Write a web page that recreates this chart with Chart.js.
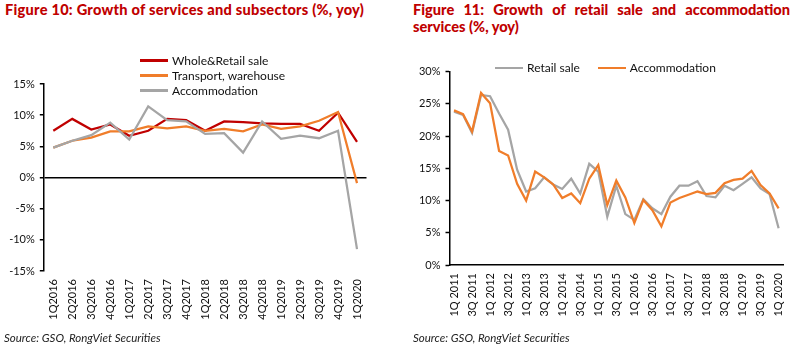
<!DOCTYPE html>
<html>
<head>
<meta charset="utf-8">
<script src="https://cdn.jsdelivr.net/npm/chart.js@4.4.1/dist/chart.umd.min.js"></script>
<style>
body{margin:0;background:#fff;}
#wrap{position:relative;width:800px;height:351px;overflow:hidden;font-family:Lato,sans-serif;}
.title{position:absolute;color:#C00000;font-weight:900;font-size:14.6px;line-height:17px;}
#t1{left:5px;top:1px;white-space:nowrap;letter-spacing:0.25px;}
#t2{left:413px;top:1px;width:377px;text-align:justify;}
.src{position:absolute;top:331px;font-style:italic;font-size:11.5px;color:#222;white-space:nowrap;}
canvas{position:absolute;top:0;}
.legend{position:absolute;font-size:12px;color:#111;}
.legend .item{display:flex;align-items:center;height:15px;white-space:nowrap;}
.legend .sw{width:28px;height:2.5px;margin-right:4px;}
#lg2 .item{display:inline-flex;margin-right:18px;}
</style>
</head>
<body>
<div id="wrap">
  <div class="title" id="t1">Figure 10: Growth of services and subsectors (%, yoy)</div>
  <div class="title" id="t2">Figure 11: Growth of retail sale and accommodation services (%, yoy)</div>
  <canvas id="c1" width="400" height="351" style="left:0"></canvas>
  <canvas id="c2" width="400" height="351" style="left:400px"></canvas>
  <div class="legend" id="lg1" style="left:140px;top:53px"></div>
  <div class="legend" id="lg2" style="left:495px;top:57px"></div>
  <div class="src" style="left:4px">Source: GSO, RongViet Securities</div>
  <div class="src" style="left:413px">Source: GSO, RongViet Securities</div>
</div>
<script>
// Figure 10 - quarterly, 2016-2020
const quarters16 = ['1Q2016','2Q2016','3Q2016','4Q2016','1Q2017','2Q2017','3Q2017','4Q2017',
  '1Q2018','2Q2018','3Q2018','4Q2018','1Q2019','2Q2019','3Q2019','4Q2019','1Q2020'];
const wholeRetail = [7.5, 9.4, 7.7, 8.5, 6.7, 7.5, 9.4, 9.2, 7.5, 9.0, 8.9, 8.7, 8.6, 8.6, 7.5, 10.4, 5.7];
const transport = [4.8, 5.9, 6.4, 7.4, 7.4, 8.2, 7.9, 8.2, 7.5, 7.8, 7.4, 8.5, 7.8, 8.2, 9.1, 10.5, -0.9];
const accommodation16 = [4.8, 5.9, 6.8, 8.8, 6.1, 11.4, 9.2, 9.0, 7.0, 7.1, 4.0, 9.0, 6.2, 6.7, 6.3, 7.5, -11.5];

// Figure 11 - quarterly, 2011-2020
const quarters11 = ['1Q 2011','2Q 2011','3Q 2011','4Q 2011','1Q 2012','2Q 2012','3Q 2012','4Q 2012',
  '1Q 2013','2Q 2013','3Q 2013','4Q 2013','1Q 2014','2Q 2014','3Q 2014','4Q 2014',
  '1Q 2015','2Q 2015','3Q 2015','4Q 2015','1Q 2016','2Q 2016','3Q 2016','4Q 2016',
  '1Q 2017','2Q 2017','3Q 2017','4Q 2017','1Q 2018','2Q 2018','3Q 2018','4Q 2018',
  '1Q 2019','2Q 2019','3Q 2019','4Q 2019','1Q 2020'];
const retailSale = [23.8, 23.3, 20.5, 26.4, 26.2, 23.5, 21.0, 14.8, 11.4, 11.9, 13.6, 12.5, 11.8,
  13.4, 11.1, 15.7, 14.5, 7.5, 12.3, 7.9, 7.0, 10.2, 8.8, 7.9, 10.6, 12.3, 12.3, 13.0,
  10.7, 10.5, 12.3, 11.6, 12.6, 13.6, 11.9, 11.0, 5.7];
const accommodation11 = [24.0, 23.4, 20.7, 26.7, 25.1, 17.7, 17.0, 12.6, 10.0, 14.5, 13.6, 12.5, 10.4,
  11.1, 9.6, 13.4, 15.5, 9.3, 13.1, 10.5, 6.5, 10.1, 8.5, 6.0, 9.7, 10.4, 10.9, 11.4,
  11.0, 11.2, 12.7, 13.2, 13.4, 14.6, 12.4, 11.1, 8.8];

const RED = '#C00000', ORANGE = '#F07D2A', GRAY = '#A5A5A5';

Chart.defaults.font.family = 'Lato, sans-serif';
Chart.defaults.font.size = 11;
Chart.defaults.color = '#111';

let line = (label, data, color, order) => ({
  label: label, data: data, borderColor: color, backgroundColor: color,
  borderWidth: 2.25, pointRadius: 0, tension: 0, order: order
});

let makeLegend = (el, datasets) => {
  datasets.forEach((ds) => {
    let item = document.createElement('div');
    item.className = 'item';
    item.innerHTML = '<span class="sw" style="background:' + ds.borderColor + '"></span><span>' + ds.label + '</span>';
    el.appendChild(item);
  });
};

let pct = (v) => v + '%';

// left chart
let ds1 = [
  line('Whole&Retail sale', wholeRetail, RED, 2),
  line('Transport, warehouse', transport, ORANGE, 1),
  line('Accommodation', accommodation16, GRAY, 0)
];
new Chart(document.getElementById('c1'), {
  type: 'line',
  data: { labels: quarters16, datasets: ds1 },
  options: {
    responsive: false, animation: false,
    layout: { padding: { top: 84, right: 33.5, left: 0, bottom: 0 } },
    plugins: { legend: { display: false }, tooltip: { enabled: false } },
    scales: {
      x: {
        offset: true,
        grid: { display: false, drawTicks: false },
        border: { display: false },
        ticks: { autoSkip: false, minRotation: 90, maxRotation: 90, padding: 8 },
        afterFit: (s) => { s.height = 80; }
      },
      y: {
        min: -15, max: 15,
        ticks: { stepSize: 5, callback: pct, padding: 5 },
        grid: {
          drawTicks: true, tickLength: 4, tickColor: '#000', tickWidth: 1.5, lineWidth: 1.5,
          color: (ctx) => (ctx.tick && ctx.tick.value === 0) ? '#000' : 'rgba(0,0,0,0)'
        },
        border: { display: true, color: '#000', width: 1.5 },
        afterFit: (s) => { s.width = 43.8; }
      }
    }
  }
});
makeLegend(document.getElementById('lg1'), ds1);

// right chart
let ds2 = [
  line('Retail sale', retailSale, GRAY, 1),
  line('Accommodation', accommodation11, ORANGE, 0)
];
new Chart(document.getElementById('c2'), {
  type: 'line',
  data: { labels: quarters11, datasets: ds2 },
  options: {
    responsive: false, animation: false,
    layout: { padding: { top: 71.7, right: 14.5, left: 0, bottom: 0 } },
    plugins: { legend: { display: false }, tooltip: { enabled: false } },
    scales: {
      x: {
        offset: true,
        grid: { display: false, drawTicks: false },
        border: { display: true, color: '#000', width: 1.5 },
        ticks: {
          autoSkip: false, minRotation: 90, maxRotation: 90, padding: 8,
          callback: function (v, i) { return i % 2 === 0 ? this.getLabelForValue(v) : ''; }
        },
        afterFit: (s) => { s.height = 86; }
      },
      y: {
        min: 0, max: 30,
        ticks: { stepSize: 5, callback: pct, padding: 5 },
        grid: { drawOnChartArea: false, drawTicks: true, tickLength: 4, tickColor: '#000', tickWidth: 1.5 },
        border: { display: true, color: '#000', width: 1.5 },
        afterFit: (s) => { s.width = 49.5; }
      }
    }
  }
});
makeLegend(document.getElementById('lg2'), ds2);
</script>
</body>
</html>
